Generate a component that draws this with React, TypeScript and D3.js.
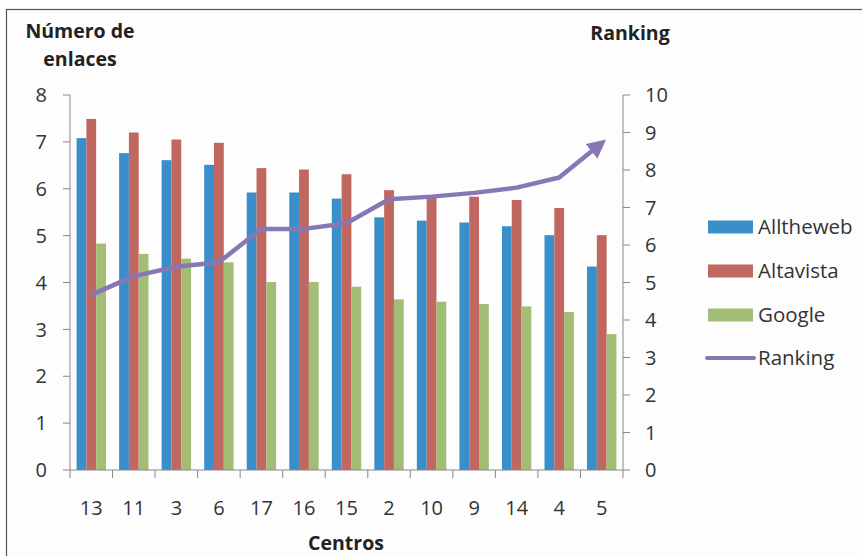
import React from "react";
import * as d3 from "d3";

const categories = ["13", "11", "3", "6", "17", "16", "15", "2", "10", "9", "14", "4", "5"];
const alltheweb = [7.08, 6.76, 6.61, 6.51, 5.92, 5.92, 5.79, 5.39, 5.32, 5.28, 5.2, 5.01, 4.34];
const altavista = [7.49, 7.2, 7.05, 6.98, 6.44, 6.41, 6.31, 5.97, 5.82, 5.83, 5.76, 5.59, 5.01];
const google = [4.83, 4.61, 4.51, 4.43, 4.01, 4.01, 3.91, 3.64, 3.59, 3.54, 3.49, 3.37, 2.9];
const ranking = [4.67, 5.17, 5.42, 5.54, 6.43, 6.43, 6.58, 7.22, 7.29, 7.39, 7.53, 7.8, 8.72];
const leftTicks = [0, 1, 2, 3, 4, 5, 6, 7, 8];
const rightTicks = [0, 1, 2, 3, 4, 5, 6, 7, 8, 9, 10];
const seriesNames = ["Alltheweb", "Altavista", "Google"];
const colors = ["#3a8fcb", "#c0675f", "#a2be76"];
const lineColor = "#8877b5";

const FONT = "'Open Sans', Lato, sans-serif";

export default function App() {
  const W = 862, H = 556;
  const left = 70, right = 623, top = 95, bottom = 470;
  const x = d3.scaleBand<string>().domain(categories).range([left, right]).paddingInner(0).paddingOuter(0);
  const yL = d3.scaleLinear().domain([0, 8]).range([bottom, top]);
  const yR = d3.scaleLinear().domain([0, 10]).range([bottom, top]);
  const bw = x.bandwidth();
  const barW = 9.8;
  const groupW = barW * 3;
  const series = [alltheweb, altavista, google];
  const axisColor = "#888888";
  const tickFont = 20;
  const titleFont = 19.5;
  const legendFont = 20.5;
  const line = d3.line<number>()
    .x((_, i) => (x(categories[i]) as number) + bw / 2)
    .y((d) => yR(d));

  return (
    <svg width={W} height={H} style={{ position: "absolute", left: 0, top: 0 }} fontFamily={FONT}>
      <defs>
        <marker id="arrow" viewBox="0 0 10 10" refX="7" refY="5" markerWidth="4.2" markerHeight="4.2" orient="auto" markerUnits="strokeWidth">
          <path d="M0,0 L10,5 L0,10 z" fill={lineColor} />
        </marker>
      </defs>
      <rect x={0} y={0} width={W} height={H} fill="#ffffff" />
      <rect x={6.5} y={9.5} width={900} height={600} fill="#fdfdfd" stroke="#555" strokeWidth={1.2} />
      {series.map((s, si) => (
        <g key={si}>
          {s.map((v, i) => {
            const x0 = (x(categories[i]) as number) + (bw - groupW) / 2 + si * barW;
            return <rect key={i} x={x0} y={yL(v)} width={barW} height={yL(0) - yL(v)} fill={colors[si]} />;
          })}
        </g>
      ))}
      <line x1={left} x2={left} y1={top} y2={bottom} stroke={axisColor} />
      <line x1={right} x2={right} y1={top} y2={bottom} stroke={axisColor} />
      <line x1={left} x2={right} y1={bottom} y2={bottom} stroke={axisColor} />
      {leftTicks.map((t) => (
        <g key={"l" + t}>
          <line x1={left - 7} x2={left} y1={yL(t)} y2={yL(t)} stroke={axisColor} />
          <text x={47} y={yL(t)} dy="0.36em" textAnchor="end" fontSize={tickFont} fill="#333">{t}</text>
        </g>
      ))}
      {rightTicks.map((t) => (
        <g key={"r" + t}>
          <line x1={right} x2={right + 7} y1={yR(t)} y2={yR(t)} stroke={axisColor} />
          <text x={645} y={yR(t)} dy="0.36em" textAnchor="start" fontSize={tickFont} fill="#333">{t}</text>
        </g>
      ))}
      {categories.map((c, i) => (
        <line key={"bt" + i} x1={x(c)} x2={x(c)} y1={bottom} y2={bottom + 8} stroke={axisColor} />
      ))}
      <line x1={right} x2={right} y1={bottom} y2={bottom + 8} stroke={axisColor} />
      {categories.map((c) => (
        <text key={"xl" + c} x={(x(c) as number) + bw / 2} y={508} dy="0.36em" textAnchor="middle" fontSize={tickFont} fill="#333">{c}</text>
      ))}
      <path d={line(ranking) as string} fill="none" stroke={lineColor} strokeWidth={4.5} strokeLinejoin="round" markerEnd="url(#arrow)" />
      <text x={80} y={31} dy="0.36em" textAnchor="middle" fontSize={titleFont} fontWeight="bold" fill="#222">Número de</text>
      <text x={80} y={59} dy="0.36em" textAnchor="middle" fontSize={titleFont} fontWeight="bold" fill="#222">enlaces</text>
      <text x={630} y={33} dy="0.36em" textAnchor="middle" fontSize={titleFont} fontWeight="bold" fill="#222">Ranking</text>
      <text x={346} y={543} dy="0.36em" textAnchor="middle" fontSize={titleFont} fontWeight="bold" fill="#222">Centros</text>
      {seriesNames.map((n, i) => (
        <g key={n}>
          <rect x={708} y={227 + i * 44 - 6.5} width={45} height={13} fill={colors[i]} />
          <text x={758} y={227 + i * 44} dy="0.36em" fontSize={legendFont} fill="#333">{n}</text>
        </g>
      ))}
      <line x1={707} x2={754} y1={358} y2={358} stroke={lineColor} strokeWidth={4} strokeLinecap="round" />
      <text x={758} y={358} dy="0.36em" fontSize={legendFont} fill="#333">Ranking</text>
    </svg>
  );
}
